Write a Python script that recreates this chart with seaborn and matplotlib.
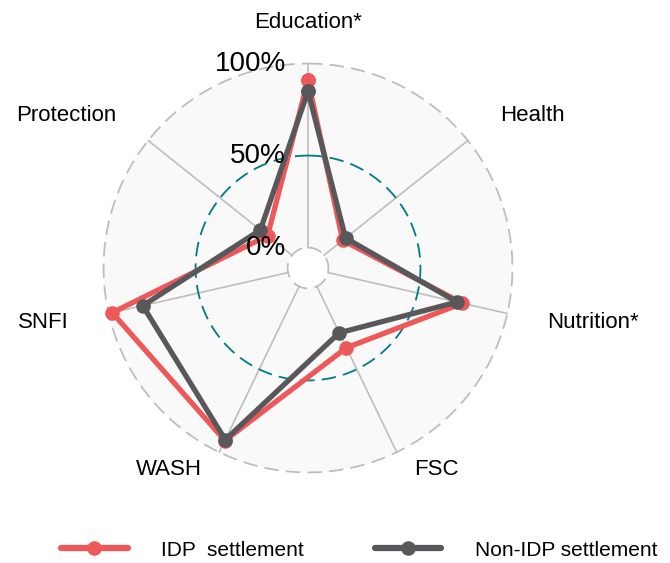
import numpy as np
import pandas as pd
import matplotlib
matplotlib.use("Agg")
import matplotlib.pyplot as plt
from matplotlib.lines import Line2D
from matplotlib.patches import Circle
import seaborn as sns

# Data (share, 0-1)
categories = ["Education*", "Health", "Nutrition*", "FSC", "WASH", "SNFI", "Protection"]
idp_values = [0.91, 0.13, 0.75, 0.37, 0.93, 0.98, 0.17]
non_idp_values = [0.85, 0.15, 0.72, 0.28, 0.925, 0.81, 0.22]
series_names = ["IDP  settlement", "Non-IDP settlement"]
grid_labels = ["0%", "50%", "100%"]
grid_values = [0.0, 0.5, 1.0]

# Styling (ggradar-like)
RED = "#EE5859"
GREY = "#58585A"
TEAL = "#007A87"
GRIDGREY = "#BEBEBE"
BG = "#F9F9F9"
CENTRE = 1 / 9  # offset of the 0% ring from the centre

sns.set_theme(style="white")
plt.rcParams["font.family"] = ["Liberation Sans", "DejaVu Sans"]

n = len(categories)
angles = np.arange(n) * 2 * np.pi / n


def to_xy(vals):
    r = np.asarray(vals) + CENTRE
    return r * np.sin(angles), r * np.cos(angles)


# Build a long table of closed polygons for seaborn
rows = []
for name, vals in zip(series_names, [idp_values, non_idp_values]):
    x, y = to_xy(vals)
    for i in list(range(n)) + [0]:
        rows.append({"group": name, "x": x[i], "y": y[i]})
df = pd.DataFrame(rows)

fig = plt.figure(figsize=(6.7, 5.63), dpi=100)
ax = fig.add_axes([0, 0, 1, 1])
px = 184.0  # pixels per unit
cx, cy = 308, 268
ax.set_xlim(-cx / px, (670 - cx) / px)
ax.set_ylim(-(563 - cy) / px, cy / px)
ax.set_aspect("equal")
ax.axis("off")

rmax = 1 + CENTRE
# background disc and white centre
ax.add_patch(Circle((0, 0), rmax, facecolor=BG, edgecolor="none", zorder=0))
ax.add_patch(Circle((0, 0), CENTRE, facecolor="white", edgecolor="none", zorder=0.5))

# axis spokes
for a in angles:
    ax.plot([CENTRE * np.sin(a), rmax * np.sin(a)], [CENTRE * np.cos(a), rmax * np.cos(a)],
            color=GRIDGREY, lw=1.2, zorder=1)

# grid circles
t = np.linspace(0, 2 * np.pi, 400)
for g, col in zip(grid_values, [GRIDGREY, TEAL, GRIDGREY]):
    r = g + CENTRE
    ax.plot(r * np.sin(t), r * np.cos(t), color=col, lw=1.3, ls=(0, (8, 4)), zorder=1.5)

# series
sns.lineplot(data=df, x="x", y="y", hue="group", units="group", estimator=None, sort=False,
             palette=[RED, GREY], hue_order=series_names, lw=3.8, marker="o",
             markersize=10.5, markeredgewidth=0, legend=False, ax=ax, zorder=3)

# grid value labels
for lab, g in zip(grid_labels, grid_values):
    ax.text(-0.12, g + CENTRE - 0.005, lab, ha="right", va="center", fontsize=20, color="black", zorder=4)

# category labels
r_lab = 1.2 * rmax
for lab, a in zip(categories, angles):
    x, y = r_lab * np.sin(a), r_lab * np.cos(a)
    if abs(np.sin(a)) < 1e-6:
        ha = "center"
    elif np.sin(a) > 0:
        ha = "left"
    else:
        ha = "right"
    dy = 14 if np.cos(a) < -0.8 else 0
    ax.annotate(lab, (x, y), xytext=(0, dy), textcoords="offset points",
                ha=ha, va="center", fontsize=16, color="black")

handles = [Line2D([], [], color=c, lw=4.5, marker="o", markersize=10.5, markeredgewidth=0)
           for c in [RED, GREY]]
fig.legend(handles, series_names, loc="center", bbox_to_anchor=(359 / 670, 1 - 550 / 563),
           ncol=2, frameon=False, fontsize=15, handlelength=3.2, handletextpad=1.6,
           columnspacing=3.4, numpoints=1, labelcolor="black")

fig.savefig("out.png", dpi=100)
